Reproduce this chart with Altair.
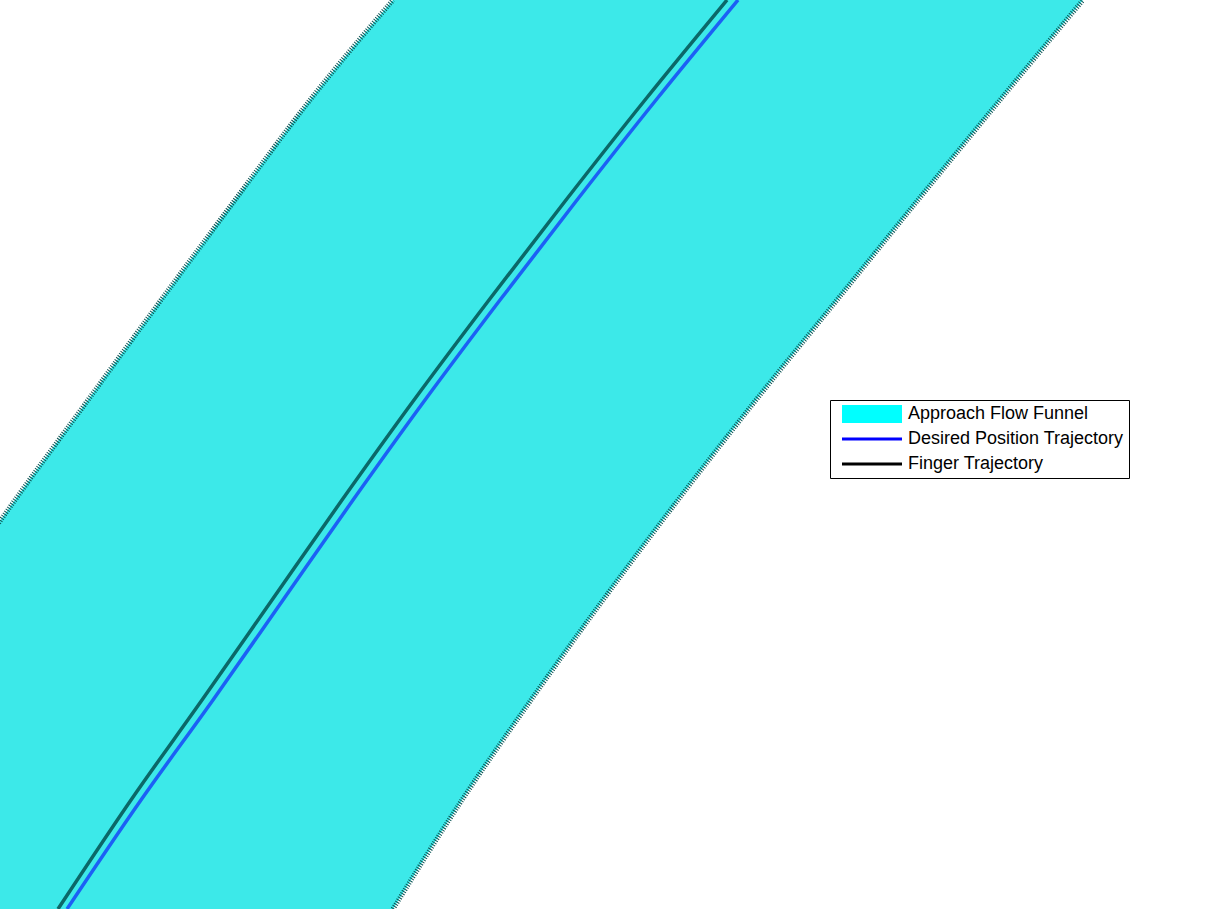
import altair as alt
import pandas as pd

funnel_y = [909, 809, 709, 609, 509, 409, 309, 209, 109, 0]
funnel_left = [393, 310, 235, 161, 88, 15, -55, -124, -192, -265]
funnel_right = [1083, 1000, 918, 837, 756, 678, 603, 531, 462, 393]

traj_y = [909, 809, 709, 609, 509, 409, 309, 209, 109, 0]
desired_x = [738, 656, 577, 500, 425, 353, 283, 213, 141, 67]
finger_x = [727, 645, 566, 489, 414, 342, 272, 202, 131, 58]

series = ["Approach Flow Funnel", "Desired Position Trajectory", "Finger Trajectory"]
legend_colors = ["#00ffff", "#0000ff", "#000000"]
legend_shapes = ["M-1,-0.3H1V0.3H-1Z", "M-1,-0.05H1V0.05H-1Z", "M-1,-0.05H1V0.05H-1Z"]

X_DOMAIN = [0, 1217]
Y_DOMAIN = [0, 909]

xs = alt.Scale(domain=X_DOMAIN, nice=False, zero=False)
ys = alt.Scale(domain=Y_DOMAIN, nice=False, zero=False)

funnel = pd.DataFrame({"y": funnel_y, "left": funnel_left, "right": funnel_right})
edges = pd.concat([
    pd.DataFrame({"y": funnel_y, "x": funnel_left, "edge": "left"}),
    pd.DataFrame({"y": funnel_y, "x": funnel_right, "edge": "right"}),
])
desired = pd.DataFrame({"y": traj_y, "x": desired_x})
finger = pd.DataFrame({"y": traj_y, "x": finger_x})
legend_df = pd.DataFrame({"series": series})

area = alt.Chart(funnel).mark_area(
    orient="horizontal", clip=True, color="#3ce9e9", interpolate="monotone"
).encode(
    y=alt.Y("y:Q", scale=ys, axis=None),
    x=alt.X("left:Q", scale=xs, axis=None),
    x2="right:Q",
)

edge_lines = alt.Chart(edges).mark_line(
    clip=True, color="#0a5656", strokeWidth=5, strokeDash=[1, 1.5], interpolate="monotone"
).encode(
    x=alt.X("x:Q", scale=xs, axis=None),
    y=alt.Y("y:Q", scale=ys, axis=None),
    detail="edge:N",
    order="y:Q",
)

desired_line = alt.Chart(desired).mark_line(
    clip=True, color="#1c60f5", strokeWidth=3.5, interpolate="monotone"
).encode(
    x=alt.X("x:Q", scale=xs, axis=None),
    y=alt.Y("y:Q", scale=ys, axis=None),
    order="y:Q",
)

finger_line = alt.Chart(finger).mark_line(
    clip=True, color="#0b6868", strokeWidth=3.5, interpolate="monotone"
).encode(
    x=alt.X("x:Q", scale=xs, axis=None),
    y=alt.Y("y:Q", scale=ys, axis=None),
    order="y:Q",
)

leg = alt.Legend(
    orient="none", legendX=830, legendY=400, title=None, direction="vertical",
    symbolSize=3600, symbolStrokeWidth=0, symbolOpacity=1, symbolOffset=7,
    labelOffset=6, labelFont="Liberation Sans", labelFontSize=18, labelColor="black",
    labelLimit=400, clipHeight=18, rowPadding=7, padding=5,
    strokeColor="black", fillColor="white", cornerRadius=0,
)

legend_layer = alt.Chart(legend_df).mark_point(filled=True, opacity=0).encode(
    color=alt.Color("series:N", scale=alt.Scale(domain=series, range=legend_colors), legend=leg),
    shape=alt.Shape("series:N", scale=alt.Scale(domain=series, range=legend_shapes), legend=leg),
)

chart = alt.layer(area, edge_lines, desired_line, finger_line, legend_layer).properties(
    width=1217, height=909, padding=0, autosize="none"
).configure_view(stroke=None)

chart.save("out.html", embed_options={"renderer": "svg", "actions": False})
